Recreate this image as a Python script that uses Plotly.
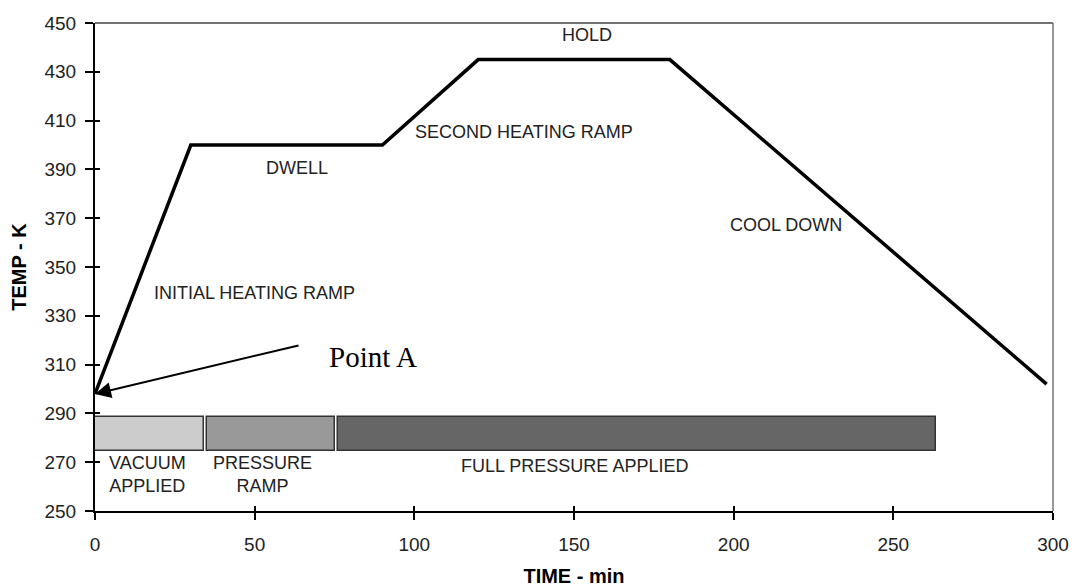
import plotly.graph_objects as go

# Cure profile
time_min = [0, 30, 90, 120, 180, 298]
temp_k = [298, 400, 400, 435, 435, 302]

# Pressure phases (bars)
phase_names = ["VACUUM<br>APPLIED", "PRESSURE<br>RAMP", "FULL PRESSURE APPLIED"]
phase_start = [0, 35, 76]
phase_end = [34, 75, 263.5]
phase_colors = ["#cccccc", "#999999", "#666666"]
bar_bottom, bar_top = 274.5, 288.5

# Stage labels
stage_labels = ["INITIAL HEATING RAMP", "DWELL", "SECOND HEATING RAMP", "HOLD", "COOL DOWN"]
stage_x = [50, 63.3, 134.2, 154, 216.4]
stage_y = [339.3, 390.6, 405.3, 445, 367.2]

# Phase label positions
phase_label_x = [16.4, 52.4, 150.2]
phase_label_y = [265, 265, 268.4]

x_ticks = [0, 50, 100, 150, 200, 250, 300]
y_ticks = [250, 270, 290, 310, 330, 350, 370, 390, 410, 430, 450]

fig = go.Figure()

for name, s, e, c in zip(phase_names, phase_start, phase_end, phase_colors):
    fig.add_trace(go.Bar(
        y=[(bar_bottom + bar_top) / 2], x=[e - s], base=[s], orientation="h",
        width=bar_top - bar_bottom, marker=dict(color=c, line=dict(color="#333333", width=1.5)),
        showlegend=False, hoverinfo="skip"))

fig.add_trace(go.Scatter(x=time_min, y=temp_k, mode="lines",
                         line=dict(color="black", width=3.5), showlegend=False))
# invisible trace to activate the overlay (inner tick) axes
fig.add_trace(go.Scatter(x=time_min, y=temp_k, mode="lines", xaxis="x2", yaxis="y2",
                         line=dict(color="rgba(0,0,0,0)", width=0), showlegend=False, hoverinfo="skip"))

lab_font = dict(family="Liberation Sans, Arial", size=18, color="#222222")
for t, x, y in zip(stage_labels, stage_x, stage_y):
    fig.add_annotation(x=x, y=y, text=t, showarrow=False, font=lab_font)
for t, x, y in zip(phase_names, phase_label_x, phase_label_y):
    fig.add_annotation(x=x, y=y, text=t, showarrow=False, font=lab_font)

# Point A arrow
fig.add_annotation(x=time_min[0], y=temp_k[0], ax=64.2, ay=318, axref="x", ayref="y",
                   showarrow=True, arrowhead=2, arrowsize=1.6, arrowwidth=2, arrowcolor="black", text="")
fig.add_annotation(x=87.2, y=313, text="Point A", showarrow=False,
                   font=dict(family="Liberation Serif, Times New Roman", size=29, color="black"))

# top & right frame lines in gray
fig.add_shape(type="line", xref="paper", yref="paper", x0=0, x1=1, y0=1, y1=1,
              line=dict(color="#444444", width=1.5))
fig.add_shape(type="line", xref="paper", yref="paper", x0=1, x1=1, y0=0, y1=1,
              line=dict(color="#777777", width=1.5))

axfont = dict(family="Liberation Sans, Arial", size=19, color="#222222")
titlefont = dict(family="Liberation Sans, Arial", size=20, color="black")
fig.update_layout(
    width=1069, height=579, plot_bgcolor="white", paper_bgcolor="white",
    margin=dict(l=87, r=24, t=15, b=76, autoexpand=False), bargap=0, barmode="overlay",
    xaxis=dict(range=[0, 300], tickvals=x_ticks, ticks="outside", ticklen=7, tickwidth=1.5,
               tickcolor="black", showline=True, linecolor="black", linewidth=2,
               showgrid=False, zeroline=False, tickfont=axfont, automargin=False,
               ticklabelstandoff=8,
               title=dict(text="<b>TIME - min</b>", font=titlefont, standoff=18)),
    yaxis=dict(range=[250, 450], tickvals=y_ticks, ticks="outside", ticklen=8, tickwidth=1.5,
               tickcolor="black", showline=True, linecolor="black", linewidth=2,
               showgrid=False, zeroline=False, tickfont=axfont, automargin=False,
               ticklabelstandoff=5,
               title=dict(text="<b>TEMP - K</b>", font=titlefont, standoff=15)),
    xaxis2=dict(range=[0, 300], overlaying="x", tickvals=x_ticks, ticks="inside", ticklen=5, tickwidth=1.5,
                tickcolor="black", showticklabels=False, showgrid=False, zeroline=False, side="bottom", anchor="y2"),
    yaxis2=dict(range=[250, 450], overlaying="y", tickvals=y_ticks, ticks="inside", ticklen=5, tickwidth=1.5,
                tickcolor="black", showticklabels=False, showgrid=False, zeroline=False, side="left", anchor="x2"),
)

fig.write_html("out.html")
